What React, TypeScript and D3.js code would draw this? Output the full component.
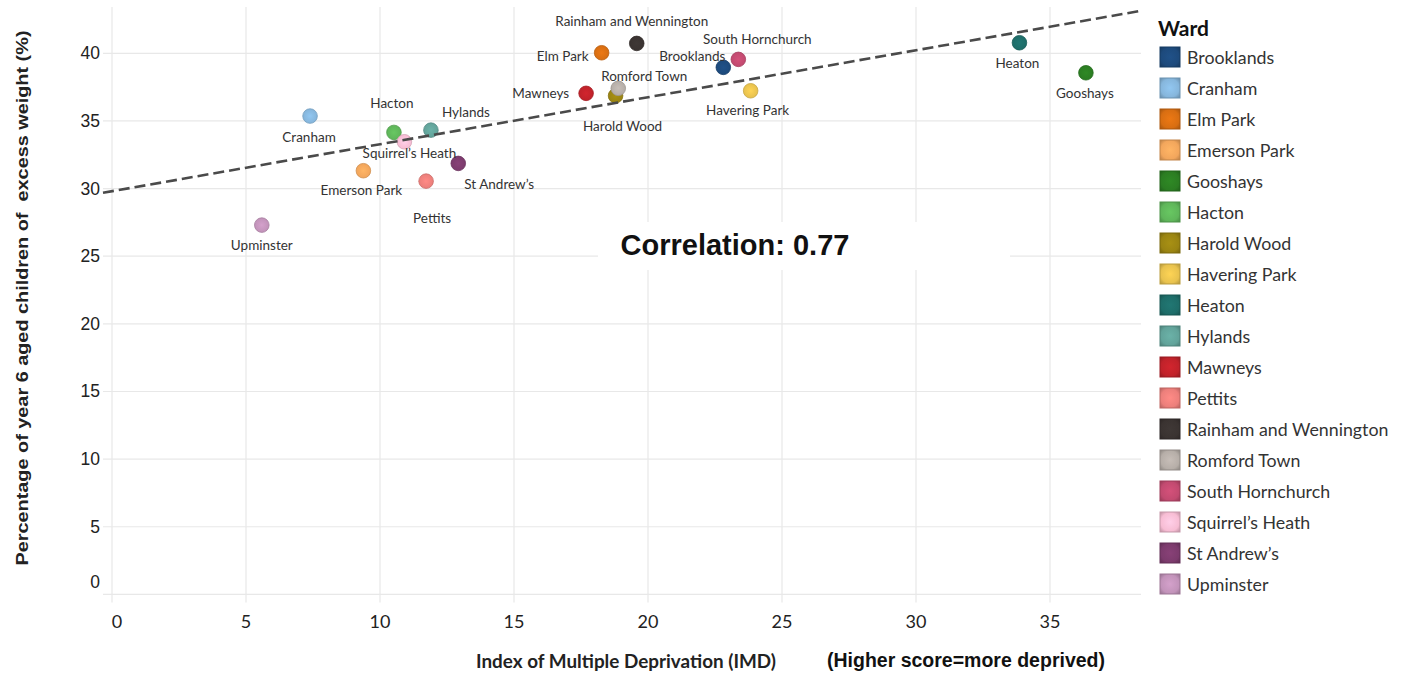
import React from "react";
import * as d3 from "d3";

const wards = [
  "Brooklands", "Cranham", "Elm Park", "Emerson Park", "Gooshays", "Hacton",
  "Harold Wood", "Havering Park", "Heaton", "Hylands", "Mawneys", "Pettits",
  "Rainham and Wennington", "Romford Town", "South Hornchurch", "Squirrel’s Heath",
  "St Andrew’s", "Upminster",
];
const imdScores = [
  22.81, 7.39, 18.27, 9.38, 36.34, 10.52, 18.79, 23.83, 33.86, 11.9, 17.69, 11.72,
  19.58, 18.89, 23.37, 10.91, 12.92, 5.59,
];
const excessWeight = [
  38.96, 35.36, 40.04, 31.32, 38.56, 34.15, 36.86, 37.23, 40.78, 34.32, 37.04, 30.55,
  40.73, 37.41, 39.55, 33.46, 31.86, 27.3,
];
const wardColors = [
  "#1d4a7c", "#86b6dc", "#d86e12", "#f2a65c", "#2b7d22", "#5fb65a", "#9a8412", "#e8c24e",
  "#1e6d69", "#62a39a", "#c0222a", "#ec7f7b", "#3a3331", "#b6aea8", "#c24a70", "#f7bdd4",
  "#7c3b6d", "#c293ba",
];
const xTicks = [0, 5, 10, 15, 20, 25, 30, 35];
const yTicks = [0, 5, 10, 15, 20, 25, 30, 35, 40];
const correlationText = "Correlation: 0.77";

// label layout: [dx, dy, anchor]
const labelLayout: Record<string, [number, number, string]> = {
  "Brooklands": [-31, -11, "middle"],
  "Cranham": [-1, 21, "middle"],
  "Elm Park": [-13, 3, "end"],
  "Emerson Park": [-2, 19, "middle"],
  "Gooshays": [-1, 20, "middle"],
  "Hacton": [-2, -29, "middle"],
  "Harold Wood": [7, 30, "middle"],
  "Havering Park": [-3, 19, "middle"],
  "Heaton": [-2, 20, "middle"],
  "Hylands": [35, -18, "middle"],
  "Mawneys": [-17, 0, "end"],
  "Pettits": [6, 37, "middle"],
  "Rainham and Wennington": [-5, -22, "middle"],
  "Romford Town": [26, -12, "middle"],
  "South Hornchurch": [19, -20, "middle"],
  "Squirrel’s Heath": [5, 11, "middle"],
  "St Andrew’s": [41, 21, "middle"],
  "Upminster": [0, 20, "middle"],
};

const W = 1405;
const H = 674;
const plotLeft = 103;
const plotRight = 1141;
const plotTop = 7;
const plotBottom = 594.4;

const x = d3.scaleLinear().domain([0, 35]).range([112, 1050]);
const y = d3.scaleLinear().domain([0, 40]).range([594.4, 53.3]);

const tableauFont = "Lato, 'Noto Sans', sans-serif";
const arialFont = "'Liberation Sans', Arial, sans-serif";

export default function App() {
  const pts = wards.map((w, i) => ({ w, x: imdScores[i], y: excessWeight[i], c: wardColors[i] }));
  const mx = d3.mean(imdScores)!;
  const my = d3.mean(excessWeight)!;
  let sxy = 0, sxx = 0;
  pts.forEach((p) => { sxy += (p.x - mx) * (p.y - my); sxx += (p.x - mx) ** 2; });
  const slope = sxy / sxx;
  const intercept = my - slope * mx;
  const x0 = x.invert(plotLeft);
  const x1 = x.invert(plotRight);
  const line = d3.line<number>().x((d) => x(d)).y((d) => y(intercept + slope * d));

  return (
    <svg width={W} height={H} style={{ position: "absolute", left: 0, top: 0, background: "#fff" }}>
      <defs>
        {wardColors.map((c, i) => (
          <radialGradient key={i} id={`sw${i}`} cx="50%" cy="50%" r="70%">
            <stop offset="0%" stopColor={d3.color(c)!.brighter(0.25).toString()} />
            <stop offset="65%" stopColor={c} />
            <stop offset="100%" stopColor={d3.color(c)!.darker(0.8).toString()} />
          </radialGradient>
        ))}
      </defs>
      {/* gridlines */}
      <g stroke="#e8e8e8" strokeWidth={1.2}>
        {xTicks.map((t) => (
          <line key={`vx${t}`} x1={x(t)} x2={x(t)} y1={plotTop} y2={plotBottom + 8} />
        ))}
        {yTicks.map((t) => (
          <line key={`hy${t}`} x1={plotLeft} x2={plotRight} y1={y(t)} y2={y(t)} />
        ))}
      </g>
      {/* correlation box */}
      <rect x={598} y={222} width={412} height={48} fill="#fff" />
      <text x={735} y={245} textAnchor="middle" dominantBaseline="central"
        fontFamily={arialFont} fontWeight="bold" fontSize={29} fill="#111">{correlationText}</text>

      {/* y tick labels */}
      {yTicks.map((t) => (
        <text key={`yl${t}`} x={100} y={t === 0 ? y(t) - 12 : y(t)} textAnchor="end" dominantBaseline="central"
          fontFamily={arialFont} fontSize={17.5} fill="#222">{t}</text>
      ))}
      {/* x tick labels */}
      {xTicks.map((t) => (
        <text key={`xl${t}`} x={t === 0 ? x(t) + 5 : x(t)} y={621} textAnchor="middle" dominantBaseline="central"
          fontFamily={tableauFont} fontSize={18} fill="#222">{t}</text>
      ))}

      {/* points */}
      {pts.map((p, i) => (
        <circle key={p.w} cx={x(p.x)} cy={y(p.y)} r={7.3} fill={`url(#sw${i})`}
          stroke={d3.color(p.c)!.darker(0.4).toString()} strokeWidth={0.8} />
      ))}
      {/* trend line */}
      <path d={line([x0, x1]) || ""} fill="none" stroke="#4a4a4a" strokeWidth={2.6} strokeDasharray="11,5" />

      {/* point labels */}
      {pts.map((p) => {
        const [dx, dy, anchor] = labelLayout[p.w];
        return (
          <text key={`lab${p.w}`} x={x(p.x) + dx} y={y(p.y) + dy} textAnchor={anchor}
            dominantBaseline="central" fontFamily={tableauFont} fontSize={13.5} fill="#333">{p.w}</text>
        );
      })}

      {/* axis titles */}
      <text transform="translate(22,298) rotate(-90)" textAnchor="middle" dominantBaseline="central"
        fontFamily={arialFont} fontWeight="bold" fontSize={17} fill="#222" xmlSpace="preserve"
        textLength={535} lengthAdjust="spacingAndGlyphs">
        {"Percentage of year 6 aged children of  excess weight (%)"}
      </text>
      <text x={626} y={661} textAnchor="middle" dominantBaseline="central"
        fontFamily={tableauFont} fontWeight="bold" fontSize={18} fill="#222"
        textLength={300} lengthAdjust="spacingAndGlyphs">Index of Multiple Deprivation (IMD)</text>
      <text x={966} y={660} textAnchor="middle" dominantBaseline="central"
        fontFamily={arialFont} fontWeight="bold" fontSize={19.5} fill="#111">(Higher score=more deprived)</text>

      {/* legend */}
      <text x={1158} y={27} dominantBaseline="central" fontFamily={tableauFont} fontWeight="bold" fontSize={21} fill="#111">Ward</text>
      {wards.map((w, i) => (
        <g key={`lg${w}`} transform={`translate(1160, ${57 + i * 31})`}>
          <rect x={0} y={-10} width={20} height={20} fill={`url(#sw${i})`}
            stroke={d3.color(wardColors[i])!.darker(0.6).toString()} strokeWidth={1} />
          <text x={27} y={0} dominantBaseline="central" fontFamily={tableauFont} fontSize={17.8} fill="#333">{w}</text>
        </g>
      ))}
    </svg>
  );
}
